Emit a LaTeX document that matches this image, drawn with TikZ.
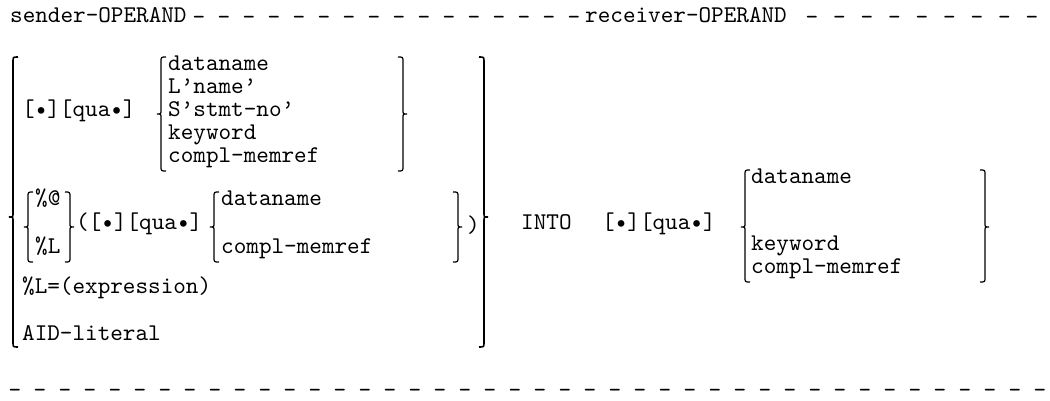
\documentclass[tikz,border=0pt]{standalone}
\usepackage{fontspec}
\setmonofont{lmmono10-regular}[Extension=.otf]
\tikzset{
  txt/.style={font=\ttfamily\fontsize{24}{28}\selectfont, inner sep=0pt, anchor=mid west},
  brace/.style={line width=1.2pt},
  bigbrace/.style={line width=1.6pt}
}
% #2 = x, #3 = top, #4 = tip, #5 = bottom
\newcommand{\openbr}[5][brace]{%
  \draw[#1] (#2+5,#3) .. controls (#2,#3) .. (#2,#3+5) -- (#2,#4-4)
    .. controls (#2,#4) .. (#2-4,#4) .. controls (#2,#4) .. (#2,#4+4)
    -- (#2,#5-5) .. controls (#2,#5) .. (#2+5,#5);}
\newcommand{\closebr}[5][brace]{%
  \draw[#1] (#2-5,#3) .. controls (#2,#3) .. (#2,#3+5) -- (#2,#4-4)
    .. controls (#2,#4) .. (#2+4,#4) .. controls (#2,#4) .. (#2,#4+4)
    -- (#2,#5-5) .. controls (#2,#5) .. (#2-5,#5);}
\begin{document}
\begin{tikzpicture}[x=1pt,y=-1pt]
\useasboundingbox (0,0) rectangle (1050,401);
% title line
\node[txt] (snd) at (10,20) {sender-OPERAND};
\foreach \i in {0,...,15}
  \node[txt,anchor=center] (tl\i) at (199+\i*25,20) {-};
\node[txt] (rcv) at (585,20) {receiver-OPERAND};
\foreach \i in {0,...,8}
  \node[txt,anchor=center] (tr\i) at (812+\i*27.5,20) {-};
% sender operand
\openbr[bigbrace]{13}{57}{217}{347}
\node[txt] (q1) at (22,114) {[•][qua•]};
\openbr{161}{57}{114}{171}
\node[txt] (dn1) at (168,68) {dataname};
\node[txt] (ln1) at (168,91) {L’name’};
\node[txt] (sn1) at (168,114) {S’stmt-no’};
\node[txt] (kw1) at (168,137) {keyword};
\node[txt] (cm1) at (168,160) {compl-memref};
\closebr{403}{57}{114}{171}
\openbr{28}{192}{227}{262}
\node[txt] (pat) at (35,203) {\%@};
\node[txt] (pl) at (35,251) {\%L};
\closebr{70}{192}{227}{262}
\node[txt] (q2) at (76,227) {([•][qua•]};
\openbr{214}{192}{227}{262}
\node[txt] (dn2) at (221,203) {dataname};
\node[txt] (cm2) at (221,251) {compl-memref};
\closebr{458}{192}{227}{262}
\node[txt] (cp) at (467,230) {)};
\node[txt] (expr) at (22,291) {\%L=(expression)};
\node[txt] (aid) at (22,338) {AID-literal};
\closebr[bigbrace]{484}{57}{217}{347}
% receiver operand
\node[txt] (into) at (521,227) {INTO};
\node[txt] (q3) at (602,227) {[•][qua•]};
\openbr{745}{170}{227}{282}
\node[txt] (dn3) at (751,181) {dataname};
\node[txt] (kw3) at (751,248) {keyword};
\node[txt] (cm3) at (751,271) {compl-memref};
\closebr{985}{170}{227}{282}
% closing line
\foreach \i in {0,...,41}
  \node[txt,anchor=center] (bl\i) at (15+\i*25,393) {-};
\end{tikzpicture}
\end{document}
